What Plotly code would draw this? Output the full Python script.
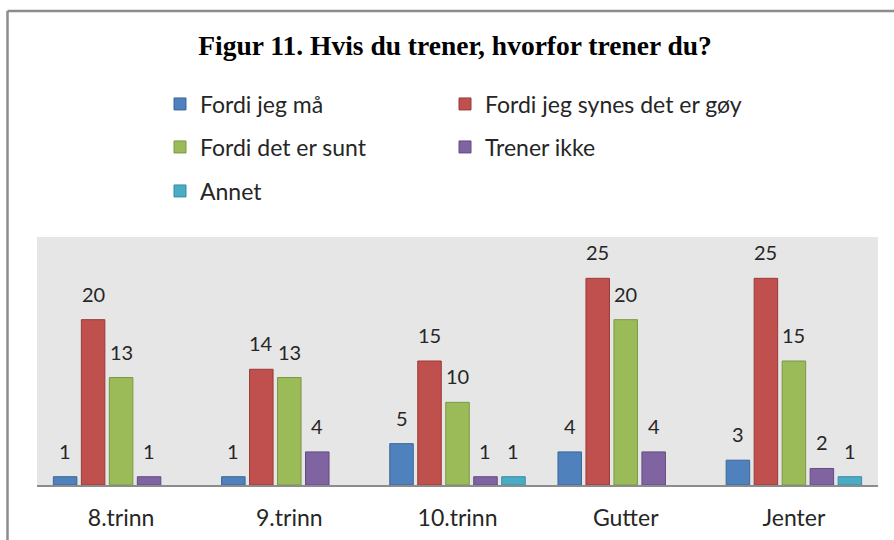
import plotly.graph_objects as go

categories = ["8.trinn", "9.trinn", "10.trinn", "Gutter", "Jenter"]
series_names = ["Fordi jeg må", "Fordi jeg synes det er gøy", "Fordi det er sunt", "Trener ikke", "Annet"]
fordi_jeg_maa = [1, 1, 5, 4, 3]
fordi_goy = [20, 14, 15, 25, 25]
fordi_sunt = [13, 13, 10, 20, 15]
trener_ikke = [1, 4, 1, 4, 2]
annet = [None, None, 1, None, 1]
values = [fordi_jeg_maa, fordi_goy, fordi_sunt, trener_ikke, annet]

fills = ["#4F81BD", "#C0504D", "#9BBB59", "#8064A2", "#4BACC6"]
edges = ["#3A6699", "#9A3B39", "#7A9843", "#634C82", "#368EA6"]
legend_ids = ["legend", "legend2", "legend3", "legend4", "legend5"]
# legend entry pixel anchors (entry start x, row center y)
legend_pos = [(160, 104), (445, 104), (160, 147), (445, 147), (160, 191)]

W, H = 894, 540
ML, MR, MT, MB = 37, 16, 237, 55
PW = W - ML - MR
PH = H - MT - MB
BARGAP = 0.168
BARGROUPGAP = 0.16
slot_px = PW / len(categories) * (1 - BARGAP) / len(series_names)

TXT = "#262626"
FONT = "Lato, 'Open Sans', sans-serif"

fig = go.Figure()
for j, (name, vals) in enumerate(zip(series_names, values)):
    fig.add_trace(go.Bar(
        x=categories, y=vals, name=name,
        marker=dict(color=fills[j], line=dict(color=edges[j], width=1)),
        legend=legend_ids[j], showlegend=True,
        hoverinfo="skip",
    ))
    for cat, v in zip(categories, vals):
        if v is None:
            continue
        fig.add_annotation(
            x=cat, y=v, text=str(v), showarrow=False,
            xshift=(j - 2) * slot_px, yshift=12, yanchor="bottom",
            font=dict(family=FONT, size=20, color=TXT),
        )

def py(px):
    return (H - MB - px) / PH

def pxx(px):
    return (px - ML) / PW

# outer frame (left and top edges)
fig.add_shape(type="line", xref="paper", yref="paper",
              x0=pxx(7.5), x1=pxx(W + 5), y0=py(11), y1=py(11),
              line=dict(color="#8C8C8C", width=2.5))
fig.add_shape(type="line", xref="paper", yref="paper",
              x0=pxx(7.5), x1=pxx(7.5), y0=py(11), y1=py(H + 5),
              line=dict(color="#8C8C8C", width=2.5))

leg_layout = {}
for lid, (lx, ly) in zip(legend_ids, legend_pos):
    leg_layout[lid] = dict(orientation="h", xanchor="left", yanchor="middle",
                           x=pxx(lx), y=py(ly), visible=True,
                           font=dict(family=FONT, size=23, color=TXT),
                           bgcolor="rgba(0,0,0,0)", borderwidth=0)

fig.update_layout(
    width=W, height=H,
    margin=dict(l=ML, r=MR, t=MT, b=MB, autoexpand=False),
    paper_bgcolor="white",
    plot_bgcolor="#E6E6E6",
    showlegend=True,
    barmode="group",
    bargap=BARGAP,
    bargroupgap=BARGROUPGAP,
    title=dict(text="<b>Figur 11. Hvis du trener, hvorfor trener du?</b>",
               x=0.509, xanchor="center", y=1 - 45 / H, yanchor="middle",
               font=dict(family="'Liberation Serif', 'Times New Roman', serif", size=27.5, color="black")),
    xaxis=dict(showline=True, linecolor="#8C8C8C", linewidth=1.5, ticks="",
               tickfont=dict(family=FONT, size=23, color=TXT), automargin=False,
               ticklabelstandoff=12, showgrid=False, zeroline=False),
    yaxis=dict(range=[0, 30], visible=False, showgrid=False, zeroline=False),
    **leg_layout,
)

fig.write_html("out.html", config={"displayModeBar": False},
               post_script="document.body.style.margin='0';document.body.style.overflow='hidden';")
